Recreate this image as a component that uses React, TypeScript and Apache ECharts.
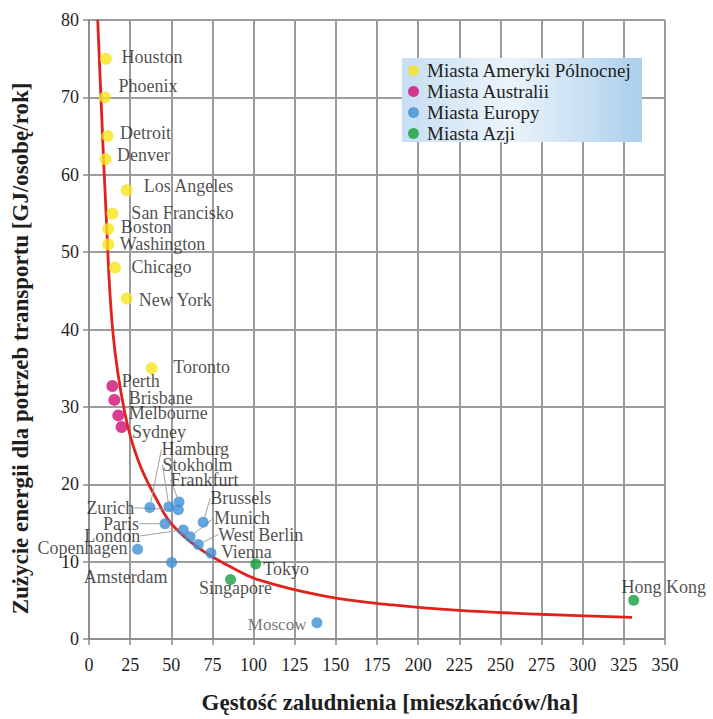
import React, { useEffect, useRef } from "react";
import * as echarts from "echarts";

// ---- data ----
const naNames = ["Houston", "Phoenix", "Detroit", "Denver", "Los Angeles", "San Francisko", "Boston", "Washington", "Chicago", "New York", "Toronto"];
const naX = [10.3, 9.7, 11.3, 10.1, 22.9, 14.2, 11.7, 11.7, 15.8, 22.9, 38.1];
const naY = [75, 70, 65, 62, 58, 55, 53, 51, 48, 44, 35];

const auNames = ["Perth", "Brisbane", "Melbourne", "Sydney"];
const auX = [14.2, 15.4, 17.8, 19.8];
const auY = [32.7, 30.9, 28.9, 27.4];

const euNames = ["Hamburg", "Stokholm", "Frankfurt", "Zurich", "Paris", "London", "Copenhagen", "Amsterdam", "Brussels", "Munich", "West Berlin", "Vienna", "Moscow"];
const euX = [37, 48.6, 54.7, 54.3, 46.2, 57.3, 29.5, 50.2, 69.4, 61.4, 66.4, 74.1, 138.5];
const euY = [17.0, 17.1, 17.7, 16.7, 14.9, 14.1, 11.6, 9.9, 15.1, 13.2, 12.2, 11.1, 2.1];

const asNames = ["Tokyo", "Singapore", "Hong Kong"];
const asX = [101.3, 86, 331];
const asY = [9.7, 7.7, 5.0];

// trend curve points
const trendX = [5.3, 7.7, 10.4, 14.5, 21.6, 30, 42.9, 50.8, 67, 85.4, 103.6, 144, 184.5, 225, 274, 330];
const trendY = [80, 67.8, 54.9, 39.7, 29.4, 23, 17.3, 14.7, 11.7, 9.4, 7.6, 5.5, 4.4, 3.7, 3.2, 2.8];

const legendNames = ["Miasta Ameryki Pólnocnej", "Miasta Australii", "Miasta Europy", "Miasta Azji"];
const xTicks = { min: 0, max: 350, interval: 25 };
const yTicks = { min: 0, max: 80, interval: 10 };

// label placement (offsets from default position, px)
const naOffsets = [[4.5, -2], [2.5, -11], [1.5, -3], [0.5, -4], [6, -4], [8, 0], [1.5, -2], [0.5, 0], [5.5, -1], [1, 1], [10.5, -1]];
const auOffsets = [[-1.5, -5], [3.5, -2], [-0.5, -2], [-0.5, 5]];
const euOffsets = [[1, -58], [-17, -42], [-19, -22], [-33.5, -2], [-15.5, 0], [-32.5, 6], [0.5, -1], [6.5, 15], [-3.5, -24], [13.5, -19], [9.5, -10], [-0.5, -1], [0, 2]];
const euLeft = ["Zurich", "Paris", "London", "Copenhagen", "Amsterdam", "Moscow"];
const euLeader = ["Hamburg", "Stokholm", "Frankfurt", "Zurich", "Paris", "London", "Brussels", "Munich", "West Berlin"];
const asOffsets = [[-3, 5], [5, -9], [30, 4]];

const FONT = "Liberation Serif";

export default function App() {
  const ref = useRef<HTMLDivElement>(null);
  useEffect(() => {
    const chart = echarts.init(ref.current!, null, { renderer: "svg" });
    const labelBase = {
      show: true,
      position: "right" as const,
      distance: 5,
      fontFamily: FONT,
      fontSize: 18,
      lineHeight: 14,
      color: "#1e1e1e",
      formatter: "{b}",
    };
    const mk = (names: string[], xs: number[], ys: number[], extra?: (n: string) => any) =>
      names.map((n, i) => ({ name: n, value: [xs[i], ys[i]], ...(extra ? extra(n) : {}) }));
    const layoutFrom = (offs: number[][]) => (p: any) => {
      const o = offs[p.dataIndex] || [0, 0];
      return { dx: o[0], dy: o[1] };
    };
    const axisCommon = {
      axisLine: { show: true, lineStyle: { color: "#8a8a8a", width: 1.5 } },
      axisTick: { show: true, length: 6, lineStyle: { color: "#8a8a8a", width: 1.5 } },
      splitLine: { show: true, lineStyle: { color: "#9c9c9c", width: 2 } },
    };

    chart.setOption({
      animation: false,
      backgroundColor: "#ffffff",
      grid: { left: 89, right: 48, top: 20, bottom: 78 },
      xAxis: {
        type: "value",
        ...xTicks,
        name: "Gęstość zaludnienia [mieszkańców/ha]",
        nameLocation: "middle",
        nameGap: 52,
        nameTextStyle: { fontFamily: FONT, fontSize: 23, fontWeight: "bold", color: "#1e1e1e", padding: [0, 0, 0, 26] },
        axisLabel: { fontFamily: FONT, fontSize: 18, color: "#1e1e1e", margin: 17 },
        ...axisCommon,
      },
      yAxis: {
        type: "value",
        ...yTicks,
        name: "Zużycie energii dla potrzeb transportu [GJ/osobę/rok]",
        nameLocation: "middle",
        nameGap: 57,
        nameRotate: 90,
        nameTextStyle: { fontFamily: FONT, fontSize: 23, fontWeight: "bold", color: "#1e1e1e", padding: [0, 38, 0, 0] },
        axisLabel: { fontFamily: FONT, fontSize: 18, color: "#1e1e1e", margin: 10 },
        ...axisCommon,
      },
      legend: {
        data: legendNames,
        orient: "vertical",
        left: 400,
        top: 57,
        padding: [4, 8, 4, 8],
        itemWidth: 11,
        itemHeight: 11,
        itemGap: 2,
        icon: "circle",
        textStyle: { fontFamily: FONT, fontSize: 19, lineHeight: 19, color: "#1e1e1e", padding: [0, 0, 0, 3] },
        z: 5,
      },
      graphic: [
        {
          type: "rect",
          left: 402,
          top: 58,
          z: 4,
          shape: { width: 240, height: 84 },
          style: {
            fill: new echarts.graphic.LinearGradient(0, 0, 1, 0, [
              { offset: 0, color: "#c6def2" },
              { offset: 0.45, color: "#ecf4fb" },
              { offset: 1, color: "#abcfec" },
            ]),
          },
        },
      ],
      series: [
        {
          name: "trend",
          type: "line",
          data: trendX.map((x, i) => [x, trendY[i]]),
          smooth: 0.4,
          showSymbol: false,
          lineStyle: { color: "#e0221c", width: 2.8 },
          z: 2,
          silent: true,
        },
        {
          name: legendNames[0],
          type: "scatter",
          symbolSize: 12,
          itemStyle: { color: "#f7e51c" },
          data: mk(naNames, naX, naY),
          label: labelBase,
          labelLayout: layoutFrom(naOffsets),
          z: 3,
        },
        {
          name: legendNames[1],
          type: "scatter",
          symbolSize: 12,
          itemStyle: { color: "#d30c74" },
          data: mk(auNames, auX, auY),
          label: labelBase,
          labelLayout: layoutFrom(auOffsets),
          z: 3,
        },
        {
          name: legendNames[2],
          type: "scatter",
          symbolSize: 11,
          itemStyle: { color: "#3e8fd4" },
          data: mk(euNames, euX, euY, (n) => ({
            label: {
              position: euLeft.includes(n) ? "left" : "right",
              ...(n === "Moscow" ? { fontSize: 17, color: "#555555" } : {}),
            },
            labelLine: { show: euLeader.includes(n) },
          })),
          label: labelBase,
          labelLine: { show: false, lineStyle: { color: "#a0a0a0", width: 1 } },
          labelLayout: layoutFrom(euOffsets),
          z: 3,
        },
        {
          name: legendNames[3],
          type: "scatter",
          symbolSize: 11,
          itemStyle: { color: "#16a03a" },
          data: mk(asNames, asX, asY, (n) => ({
            label: { position: n === "Singapore" ? "bottom" : n === "Hong Kong" ? "top" : "right" },
          })),
          label: labelBase,
          labelLayout: layoutFrom(asOffsets),
          z: 3,
        },
      ],
    });
    return () => chart.dispose();
  }, []);
  return (
    <div
      ref={ref}
      style={{ position: "fixed", left: 0, top: 0, width: 713, height: 719, background: "#fff" }}
    />
  );
}
